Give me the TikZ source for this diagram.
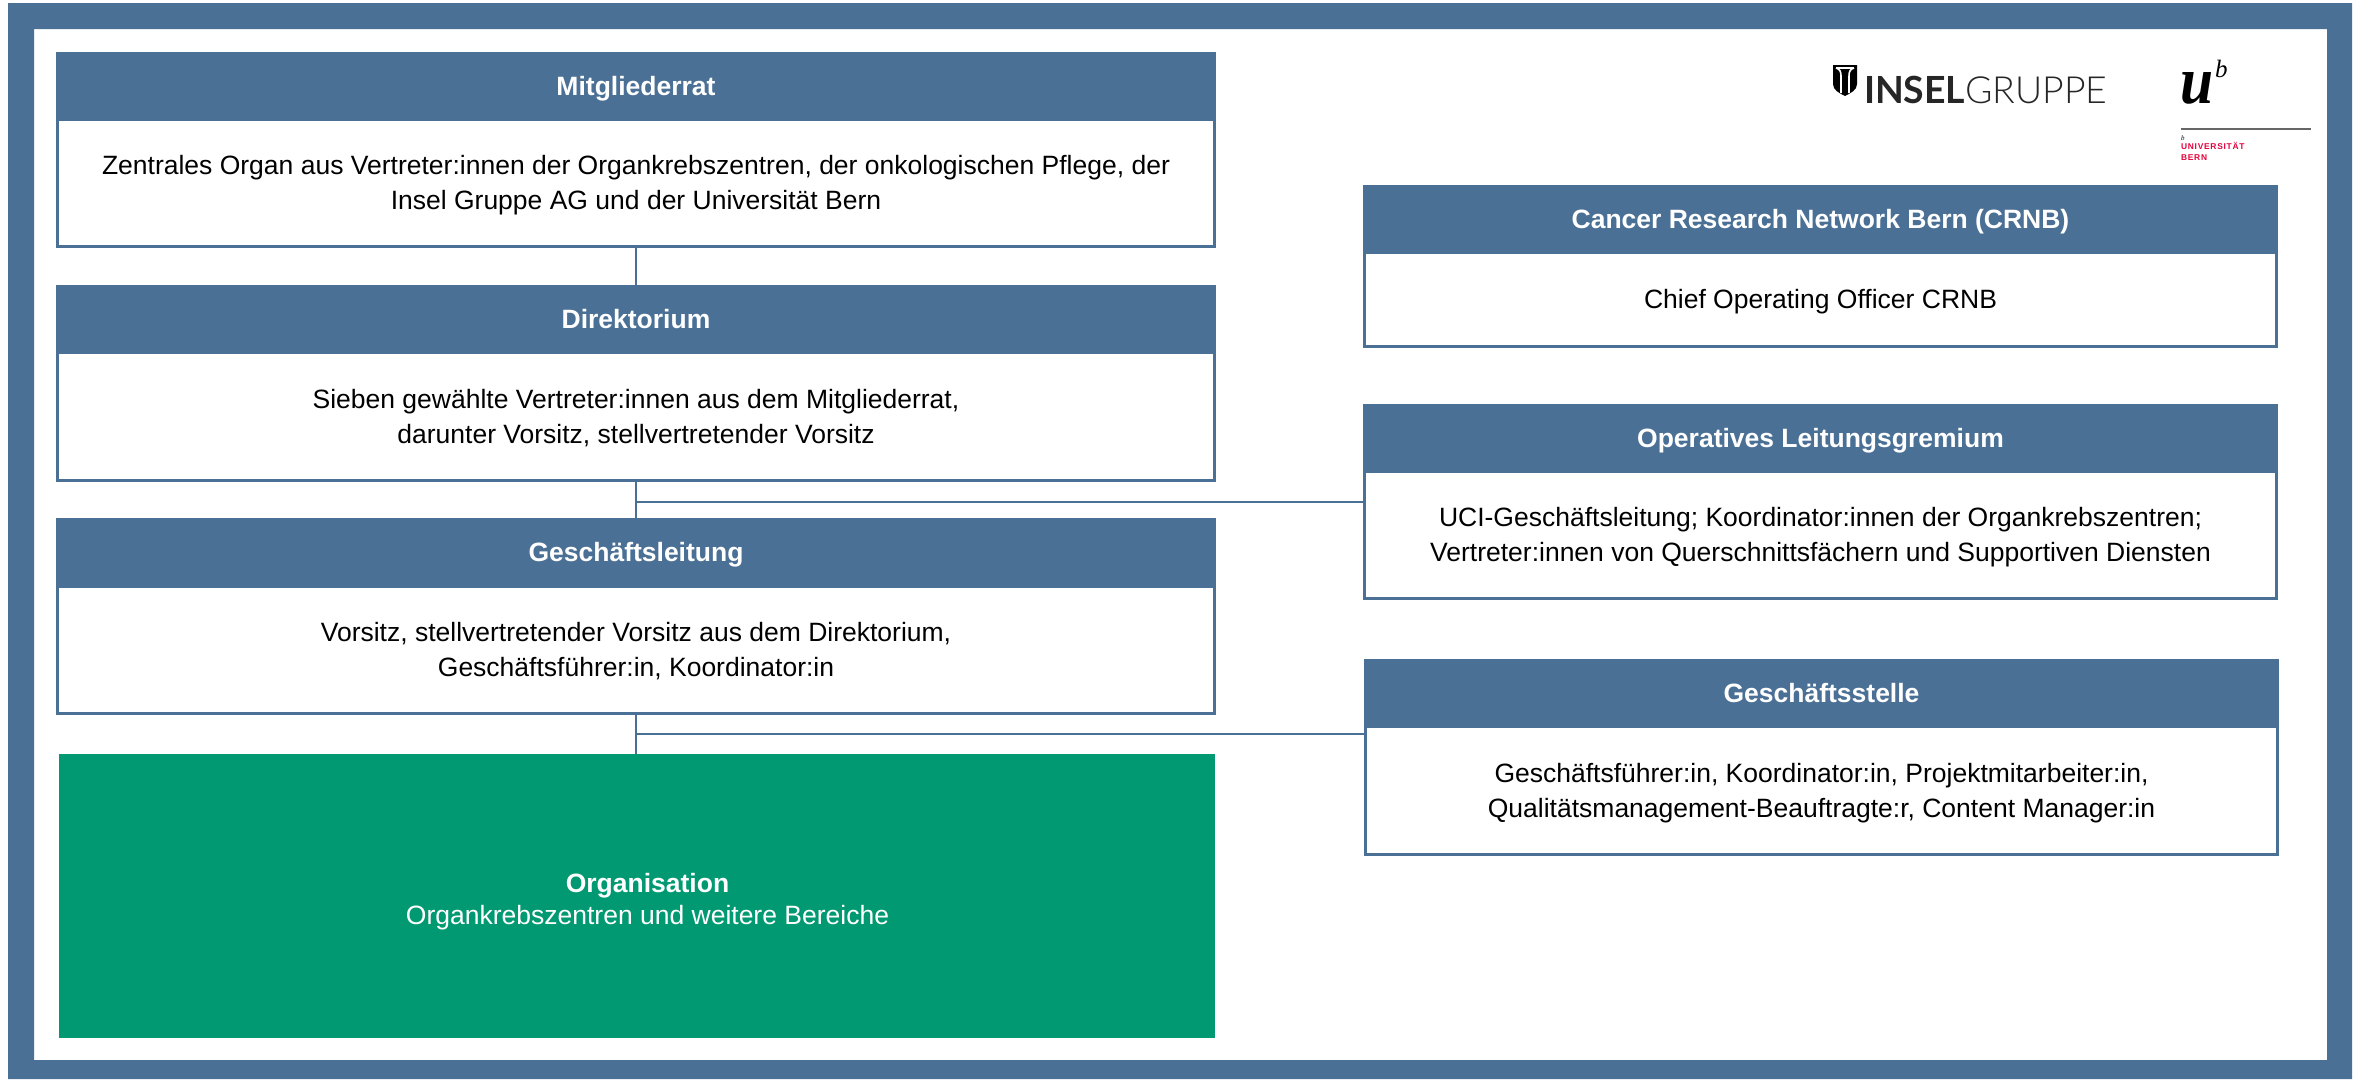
\documentclass[tikz,border=0pt]{standalone}
\usepackage{fontspec}
\setmainfont{Liberation Sans}
\newfontfamily\logofont{Lato}
\newfontfamily\logolight{Lato Light}
\newfontfamily\ubfont[LetterSpace=9]{Liberation Sans Bold}
\newfontfamily\userif{Liberation Serif}
\definecolor{uciblue}{HTML}{4B7095}
\definecolor{ucigreen}{HTML}{009971}
\definecolor{ubred}{HTML}{E4003C}
\newcommand{\st}{\rule[-3.5pt]{0pt}{16pt}}
\newcommand{\stb}{\rule[-3.5pt]{0pt}{3.5pt}}
\newcommand{\sth}{\rule[-3.5pt]{0pt}{16.5pt}}
\tikzset{
  headbox/.style={rectangle,fill=uciblue,text=white,inner sep=0pt,outer sep=0pt,font=\fontsize{13.25}{17.5}\selectfont\bfseries},
  bodybox/.style={rectangle,draw=uciblue,line width=1.4pt,fill=white,text=black,inner sep=0pt,outer sep=0pt,align=center,font=\fontsize{13.25}{17.5}\selectfont},
  greenbox/.style={rectangle,fill=ucigreen,text=white,inner sep=0pt,outer sep=0pt,align=center,font=\fontsize{13.25}{15.8}\selectfont},
  link/.style={draw=uciblue,line width=1.1pt},
  logotext/.style={anchor=base west,inner sep=0pt,outer sep=0pt}
}
\newcommand{\orgbox}[8]{%
  \node[headbox,minimum width={(#5-#2)*0.5pt},minimum height={(#4-#3)*0.5pt}] (#1-h) at ({(#2+#5)/2},{-(#3+#4)/2}) {\sth #7};
  \node[bodybox,minimum width={(#5-#2-2.8)*0.5pt},minimum height={(#6-#4-2.8)*0.5pt}] (#1-b) at ({(#2+#5)/2},{-(#4+#6-1)/2}) {#8};
}
\begin{document}
\begin{tikzpicture}[x=0.5pt,y=0.5pt]
\useasboundingbox (0,0) rectangle (2363,-1082);
\fill[white] (0,0) rectangle (2363,-1082);
\fill[uciblue,even odd rule] (8,-3) rectangle (2352,-1079) (34,-29) rectangle (2327,-1060);
\orgbox{m}{56}{52}{119}{1216}{248}{Mitgliederrat}{\st Zentrales Organ aus Vertreter:innen der Organkrebszentren, der onkologischen Pflege, der\\\stb Insel Gruppe AG und der Universität Bern}
\orgbox{d}{56}{285}{352}{1216}{482}{Direktorium}{\st Sieben gewählte Vertreter:innen aus dem Mitgliederrat,\\\stb darunter Vorsitz, stellvertretender Vorsitz}
\orgbox{g}{56}{518}{586}{1216}{715}{Geschäftsleitung}{\st Vorsitz, stellvertretender Vorsitz aus dem Direktorium,\\\stb Geschäftsführer:in, Koordinator:in}
\node[greenbox,minimum width={(1215-59)*0.5pt},minimum height={(1038-754)*0.5pt}] (org) at ({(59+1215)/2},{-(754+1038)/2}) {\rule{0pt}{16pt}\hspace*{10.5pt}\textbf{Organisation}\\\stb\hspace*{10.5pt}Organkrebszentren und weitere Bereiche};
\orgbox{c}{1363}{185}{252}{2278}{348}{Cancer Research Network Bern (CRNB)}{\st Chief Operating Officer CRNB}
\orgbox{o}{1363}{404}{471}{2278}{600}{Operatives Leitungsgremium}{\st UCI-Geschäftsleitung; Koordinator:innen der Organkrebszentren;\\\stb Vertreter:innen von Querschnittsfächern und Supportiven Diensten}
\orgbox{s}{1364}{659}{726}{2279}{856}{Geschäftsstelle}{\st Geschäftsführer:in, Koordinator:in, Projektmitarbeiter:in,\\\stb Qualitätsmanagement-Beauftragte:r, Content Manager:in}
\draw[link] (m-b.south) -- (d-h.north);
\draw[link] (d-b.south) -- (g-h.north);
\draw[link] (g-b.south) -- (g-b.south |- org.north);
\coordinate (j1) at (636,-502);
\coordinate (j2) at (636,-734);
\draw[link] (j1) -- (j1 -| o-b.west);
\draw[link] (j2) -- (j2 -| s-b.west);
% Insel logo
\fill[black] (1833,-65) -- (1857,-65) -- (1857,-84) .. controls (1857,-90) and (1851,-93) .. (1845,-96) .. controls (1839,-93) and (1833,-90) .. (1833,-84) -- cycle;
\draw[white,line width=0.8pt] (1836,-68) .. controls (1840,-69) and (1841,-72) .. (1841,-76) -- (1841,-93);
\draw[white,line width=0.8pt] (1854,-68) .. controls (1850,-69) and (1849,-72) .. (1849,-76) -- (1849,-93);
\draw[white,line width=0.8pt] (1836,-68) -- (1854,-68);
\node[logotext,text=black!85] (insel) at (1864,-103) {\fontsize{18.7}{18.7}\selectfont{\logofont\bfseries INSEL}{\logolight GRUPPE}};
% Uni Bern logo
\node[logotext] (ub-u) at (2180,-103) {\fontsize{27}{27}\selectfont\userif\bfseries\itshape\scalebox{1.1}[1.25]{u}};
\node[logotext] (ub-b) at (2215,-77) {\fontsize{12.5}{12.5}\selectfont\userif\itshape b};
\draw[draw=black!60,line width=1pt] (2181,-129) -- (2311,-129);
\node[logotext] (ub-s) at (2181,-140) {\fontsize{3.5}{3.5}\selectfont\userif\itshape b};
\node[logotext,text=ubred] (ub-1) at (2181,-149) {\fontsize{4.2}{4.2}\selectfont\ubfont UNIVERSITÄT};
\node[logotext,text=ubred] (ub-2) at (2181,-160) {\fontsize{4.2}{4.2}\selectfont\ubfont BERN};
\end{tikzpicture}
\end{document}
